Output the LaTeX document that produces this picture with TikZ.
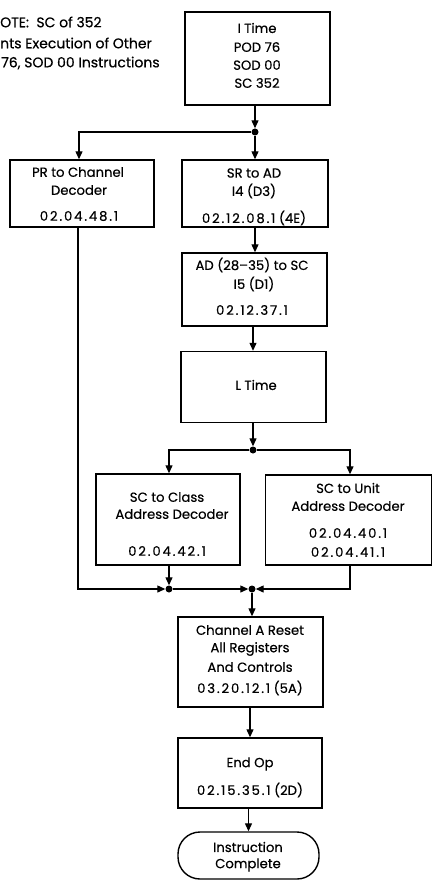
\documentclass[tikz,border=0pt]{standalone}
\usepackage{fontspec}
\setmainfont{Poppins}[FakeBold=0.5]
\newfontfamily\numfont{Poppins}[LetterSpace=14,FakeBold=0.5]
\usetikzlibrary{arrows.meta}
\begin{document}
\begin{tikzpicture}[x=1pt,y=-1pt,
  box/.style={draw,line width=1.4pt,inner sep=0pt},
  txt/.style={inner sep=0pt,font=\fontsize{13.2}{15}\selectfont},
  num/.style={inner sep=0pt,font=\fontsize{13.2}{15}\numfont},
  dot/.style={circle,fill,inner sep=0pt,minimum size=7pt},
  conn/.style={line width=1.2pt},
  arr/.style={conn,-{Triangle[length=8pt,width=7pt]}}]
\useasboundingbox (0,0) rectangle (433,882);
% note
\node[txt,anchor=west,font=\fontsize{14}{16}\selectfont] (n1) at (0,22) {OTE:\ \ SC of 352};
\node[txt,anchor=west,font=\fontsize{14}{16}\selectfont] (n2) at (0,43) {nts Execution of Other};
\node[txt,anchor=west,font=\fontsize{14}{16}\selectfont] (n3) at (1,63) {76, SOD 00 Instructions};
% boxes
\node[box,minimum width=145pt,minimum height=93pt] (it) at (257.5,58.5) {};
\node[box,minimum width=144pt,minimum height=67pt] (pr) at (82,193.5) {};
\node[box,minimum width=146pt,minimum height=67pt] (sr) at (255,193.5) {};
\node[box,minimum width=145pt,minimum height=73pt] (ad) at (254.5,289.5) {};
\node[box,minimum width=145pt,minimum height=71pt] (lt) at (253.5,387) {};
\node[box,minimum width=144pt,minimum height=91pt] (cl) at (168,519.5) {};
\node[box,minimum width=166pt,minimum height=90pt] (un) at (348.5,520) {};
\node[box,minimum width=145pt,minimum height=90pt] (ch) at (250.5,662) {};
\node[box,minimum width=144pt,minimum height=70pt] (eo) at (250,773) {};
\node[box,minimum width=141pt,minimum height=47pt,rounded corners=22pt] (ic) at (248.5,855.5) {};
% texts
\node[txt] (t1) at (257,28) {I Time};
\node[txt] (t2) at (257,47) {POD 76};
\node[txt] (t3) at (257,65) {SOD 00};
\node[txt] (t4) at (257,83) {SC 352};
\node[txt] (p1) at (78,172) {PR to Channel};
\node[txt] (p2) at (79,190) {Decoder};
\node[num] (p3) at (79,216) {02.04.48.1};
\node[txt] (s1) at (254,173) {SR to AD};
\node[txt] (s2) at (254,191) {I4 (D3)};
\node[txt] (s3) at (254,218) {{\numfont 02.12.08.1} (4E)};
\node[txt] (a1) at (252,265) {AD (28--35) to SC};
\node[txt] (a2) at (254,284) {I5 (D1)};
\node[num] (a3) at (252,310) {02.12.37.1};
\node[txt] (l1) at (256,385) {L Time};
\node[txt] (c1) at (167,497) {SC to Class};
\node[txt] (c2) at (172,514) {Address Decoder};
\node[num] (c3) at (167,551) {02.04.42.1};
\node[txt] (u1) at (348,488) {SC to Unit};
\node[txt] (u2) at (348,506) {Address Decoder};
\node[num] (u3) at (348,533) {02.04.40.1};
\node[num] (u4) at (348,552) {02.04.41.1};
\node[txt] (h1) at (250,630) {Channel A Reset};
\node[txt] (h2) at (250,649) {All Registers};
\node[txt] (h3) at (250,667) {And Controls};
\node[txt] (h4) at (250,688) {{\numfont 03.20.12.1} (5A)};
\node[txt] (e1) at (250,764) {End Op};
\node[txt] (e2) at (250,790) {{\numfont 02.15.35.1} (2D)};
\node[txt] (i1) at (248,847) {Instruction};
\node[txt] (i2) at (248,865) {Complete};
% junctions
\node[dot] (d1) at (255,132) {};
\node[dot] (d2) at (253,450) {};
\node[dot] (d3) at (169,589) {};
\node[dot] (d4) at (252,589) {};
\coordinate (k1) at (79,132);
\coordinate (k2) at (169,450);
\coordinate (k3) at (350,450);
\coordinate (k4) at (78,589);
\coordinate (k5) at (350,589);
% connectors
\draw[arr] (it.south -| d1) -- (d1);
\draw[arr] (d1) -- (sr.north -| d1);
\draw[arr] (d1) -- (k1) -- (pr.north -| k1);
\draw[arr] (sr.south -| d1) -- (ad.north -| d1);
\draw[arr] (ad.south -| d2) -- (lt.north -| d2);
\draw[arr] (lt.south -| d2) -- (d2);
\draw[arr] (d2) -- (k2) -- (cl.north -| k2);
\draw[arr] (d2) -- (k3) -- (un.north -| k3);
\draw[arr] (pr.south -| k4) -- (k4) -- (d3);
\draw[arr] (cl.south -| d3) -- (d3);
\draw[arr] (d3) -- (d4);
\draw[arr] (un.south -| k5) -- (k5) -- (d4);
\draw[arr] (d4) -- (ch.north -| d4);
\draw[arr] (ch.south -| eo) -- (eo.north);
\draw[arr] (eo.south -| ic) -- (ic.north);
\end{tikzpicture}
\end{document}
